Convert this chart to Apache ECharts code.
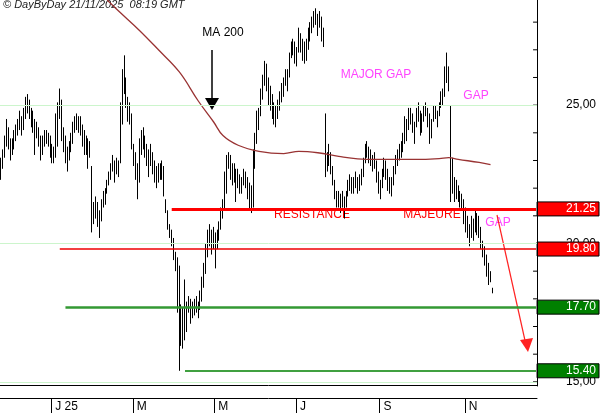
<!DOCTYPE html>
<html><head><meta charset="utf-8">
<script src="https://cdn.jsdelivr.net/npm/echarts@6/dist/echarts.min.js"></script>
<style>html,body{margin:0;padding:0;background:#fff}#c{width:600px;height:413px}</style>
</head><body><div id="c"></div>
<script>
const closes=[22.8,23.2,23.6,24.2,23.7,23.4,23.5,23.9,24.0,24.3,24.5,24.2,24.7,24.9,25.1,24.8,24.6,24.4,24.0,24.1,23.9,
23.3,23.7,23.8,23.9,23.8,23.5,23.1,23.2,23.6,24.6,25.3,24.0,23.8,23.3,23.0,23.4,23.7,24.1,24.3,24.5,24.4,
24.2,24.0,23.6,23.7,23.3,23.5,21.0,21.1,21.4,21.0,20.8,21.4,21.6,21.7,22.1,22.4,22.7,22.9,22.6,22.9,22.7,
24.4,26.0,25.8,25.3,24.9,24.7,23.6,23.0,22.6,22.3,23.4,23.6,23.9,23.4,23.2,22.8,23.3,22.9,22.6,22.4,22.5,
22.6,22.7,22.4,21.4,20.8,20.5,20.2,19.8,19.4,19.0,17.9,17.0,17.4,16.9,17.6,17.8,17.4,17.6,17.7,17.8,17.6,
18.0,18.4,18.9,19.6,20.0,20.4,20.1,20.3,20.0,20.2,20.4,20.9,21.3,22.0,22.9,23.1,22.8,22.5,22.6,22.3,22.4,
22.0,22.1,22.5,22.3,22.0,21.9,21.4,22.7,23.8,24.4,24.5,25.2,25.8,26.3,25.9,25.5,25.3,24.9,24.8,24.6,24.9,
25.2,25.5,25.7,26.0,25.9,26.6,27.1,27.2,26.9,26.8,27.4,27.3,27.0,26.9,27.1,27.5,27.7,27.9,28.1,28.3,28.0,
28.1,27.6,27.4,22.8,23.0,23.3,22.9,22.4,22.0,21.6,21.7,21.5,21.6,21.4,21.7,22.0,22.3,22.2,22.1,22.3,22.1,
22.2,22.4,22.8,23.3,23.4,23.2,23.1,22.9,23.1,22.6,22.2,21.9,22.4,22.8,22.7,22.3,22.1,22.0,22.5,22.9,23.1,
23.3,23.4,23.6,24.0,24.1,24.5,24.6,24.3,24.1,24.6,24.8,24.3,24.4,24.8,24.9,24.6,24.4,24.1,24.7,24.8,24.5,
24.9,25.2,25.3,25.9,26.3,25.9,23.0,22.2,21.8,22.0,21.8,21.6,21.5,21.3,20.9,20.6,20.3,20.7,20.5,21.0,20.8,
20.6,20.1,19.8,19.6,19.2,18.9,18.7,18.3];
const highs=[23.1,23.4,23.9,24.5,24.2,23.8,23.8,24.1,24.3,24.5,24.8,24.6,24.9,25.3,25.4,25.2,24.9,24.8,24.5,24.4,24.2,
23.9,23.9,24.1,24.1,24.0,23.9,23.6,23.5,24.7,25.1,25.6,25.2,24.2,23.9,23.5,23.7,24.0,24.4,24.6,24.7,24.6,
24.6,24.3,24.1,23.9,23.8,23.7,22.8,21.5,21.7,21.5,21.2,21.6,21.9,22.0,22.3,22.6,22.9,23.2,23.0,23.1,23.0,
25.1,26.3,26.8,26.0,25.3,25.1,24.7,23.6,23.3,22.9,23.8,24.1,24.2,23.9,23.6,23.4,23.6,23.3,23.0,22.8,22.9,
22.9,23.0,22.8,21.6,21.2,20.7,20.5,20.2,19.7,19.5,19.2,17.8,17.7,18.7,17.9,18.1,18.0,17.9,18.0,18.1,17.9,
18.3,18.8,19.3,20.0,20.5,20.7,20.5,20.6,20.4,20.5,20.8,21.3,21.6,22.6,23.2,23.3,23.2,22.9,22.9,22.7,22.7,
22.5,22.4,22.7,22.6,22.4,22.2,22.1,23.4,24.0,24.8,24.9,25.6,26.1,26.6,26.5,26.0,25.7,25.4,25.1,25.0,25.2,
25.5,25.8,26.0,26.3,26.3,26.9,27.3,27.4,27.3,27.1,27.8,27.6,27.4,27.3,27.4,27.8,28.0,28.2,28.4,28.5,28.3,
28.4,28.2,27.8,24.7,23.3,23.6,23.3,22.8,22.3,21.9,21.9,21.8,21.9,21.7,21.9,22.3,22.5,22.4,22.4,22.6,22.4,
22.5,22.7,23.1,23.6,23.7,23.5,23.4,23.2,23.3,23.0,22.6,22.3,22.7,23.1,23.0,22.7,22.4,22.4,22.8,23.2,23.4,
23.6,23.7,24.0,24.6,24.5,24.9,24.9,24.7,24.4,24.9,25.1,24.8,24.7,25.0,25.1,24.9,24.7,24.5,25.0,25.0,24.8,
25.1,25.5,25.6,26.4,26.9,26.4,25.0,23.1,22.4,22.3,22.1,21.9,21.8,21.6,21.3,21.0,20.7,21.0,20.9,21.2,21.1,
21.0,20.6,20.1,19.9,19.6,19.3,19.0,18.4];
const lows=[22.3,22.7,23.1,23.5,23.4,23.0,23.2,23.4,23.7,23.9,24.1,23.9,24.1,24.5,24.7,24.5,24.2,24.0,23.2,23.8,23.5,
23.0,23.2,23.5,23.6,23.5,23.1,22.9,22.9,23.1,23.5,24.5,23.7,23.3,22.9,22.6,23.0,23.3,23.6,24.0,24.1,24.0,
23.9,23.5,23.2,23.2,22.7,23.1,20.4,20.7,20.9,20.6,20.2,20.8,21.3,21.4,21.8,22.1,22.3,22.6,22.2,22.5,22.4,
22.9,24.3,25.4,24.9,24.4,24.3,23.4,22.8,22.3,21.6,22.2,23.2,23.4,23.1,22.8,22.4,22.8,22.5,22.2,22.0,22.2,
22.3,22.3,21.7,21.1,20.5,20.2,19.9,19.4,19.0,17.5,15.4,16.3,16.2,16.5,16.8,17.5,17.1,17.3,17.4,17.5,17.3,
17.6,17.9,18.4,18.9,19.5,19.9,19.6,19.8,19.1,19.8,20.1,20.5,20.9,21.2,21.8,22.7,22.3,22.1,22.2,21.5,22.0,
21.8,21.8,22.1,22.0,21.6,21.2,21.1,21.3,22.7,23.6,24.1,24.6,25.2,25.7,25.5,25.0,24.8,24.5,24.3,24.2,24.5,
24.8,25.1,25.3,25.7,25.5,26.0,26.7,26.8,26.5,26.4,26.9,26.9,26.6,26.5,26.6,27.0,27.3,27.6,27.8,27.9,27.5,
27.8,27.3,27.1,22.4,22.6,22.8,22.5,22.1,21.6,21.3,21.3,21.1,21.3,20.9,21.3,21.7,21.9,21.8,21.8,22.0,21.8,
21.9,22.1,22.4,22.9,23.1,22.9,22.8,22.6,22.7,22.2,21.8,21.6,22.0,22.4,22.3,21.9,21.8,21.7,22.1,22.5,22.8,
23.0,23.1,23.3,23.6,23.7,24.1,24.3,24.0,23.6,24.2,24.4,23.9,24.0,24.4,24.6,24.2,23.6,23.8,24.4,24.5,24.2,
24.6,24.9,25.0,25.3,25.8,25.5,21.5,21.8,21.5,21.6,21.5,21.3,21.2,20.7,20.4,20.2,19.9,20.2,20.1,20.4,20.3,
20.2,19.8,19.5,19.2,18.8,18.5,18.6,18.2];
const maIdx=[56,62,73,83,94,104,112,117,125,136,149,157,167,178,188,199,209,220,231,236,241,252,258];
const maVal=[28.8,28.4,27.7,27.0,26.2,25.15,24.4,23.9,23.55,23.33,23.25,23.33,23.28,23.15,23.06,23.04,23.04,23.04,23.07,23.1,23.04,22.93,22.85];
const yTicks=[15,20,25];
const levels=[{v:21.25,from:90,color:'#ff0000',w:3,box:'#ff0000'},{v:19.80,from:31,color:'#ee0000',w:1.5,box:'#ff0000'},{v:17.70,from:34,color:'#339933',w:2.5,box:'#008000'},{v:15.40,from:97,color:'#008000',w:1.5,box:'#008000'}];
const monthLabels={'2025-01':'J 25','2025-03':'M','2025-05':'M','2025-07':'J','2025-09':'S','2025-11':'N'};
const PAD=23;

function fmt(d){return d.getUTCFullYear()+'-'+String(d.getUTCMonth()+1).padStart(2,'0')+'-'+String(d.getUTCDate()).padStart(2,'0');}
const dates=[];let d=new Date(Date.UTC(2025,10,21));
while(dates.length<closes.length){const w=d.getUTCDay();if(w!==0&&w!==6)dates.unshift(fmt(d));d=new Date(d.getTime()-86400000);}
d=new Date(Date.UTC(2025,10,22));
while(dates.length<closes.length+PAD){const w=d.getUTCDay();if(w!==0&&w!==6)dates.push(fmt(d));d=new Date(d.getTime()+86400000);}
const firstOfMonth=[];const seen=new Set();
dates.forEach((s,i)=>{const m=s.slice(0,7);if(!seen.has(m)){seen.add(m);if(monthLabels[m])firstOfMonth.push(i);}});
const fom=new Set(firstOfMonth);

const ohlc=closes.map((c,i)=>[i?closes[i-1]:c,c,lows[i],highs[i]]);
const ma=maIdx.map((ix,k)=>[ix,maVal[k]]);
const YMIN=14.85,YMAX=28.8;

const chart=echarts.init(document.getElementById('c'),null,{renderer:'canvas'});
const FONT='Liberation Sans, Arial, sans-serif';
chart.setOption({
 animation:false,
 grid:{left:0,right:63,top:0,bottom:27},
 xAxis:{type:'category',data:dates,boundaryGap:true,offset:12,
  axisLine:{lineStyle:{color:'#000'}},
  axisTick:{show:false},
  axisLabel:{interval:(i)=>fom.has(i),align:'left',padding:[0,0,0,3],margin:3,color:'#000',fontFamily:FONT,fontSize:12,
   formatter:(v)=>monthLabels[v.slice(0,7)]||''},
  splitLine:{show:false}},
 yAxis:{type:'value',position:'right',min:YMIN,max:YMAX,axisLabel:{show:false},splitLine:{show:false},axisTick:{show:false},
  axisLine:{show:true,lineStyle:{color:'#000'}}},
 series:[
  {type:'line',silent:true,data:[],markLine:{silent:true,symbol:'none',label:{show:false},
    lineStyle:{color:'#ccf5cc',width:1,type:'solid'},data:yTicks.map(v=>({yAxis:v}))}},
  {type:'candlestick',data:ohlc,barMaxWidth:2,
   itemStyle:{color:'#444',color0:'#444',borderColor:'#000',borderColor0:'#000',borderWidth:1}},
  {type:'line',data:ma,smooth:0.4,showSymbol:false,lineStyle:{color:'#993333',width:1.3}},
  {type:'line',data:[],markLine:{silent:true,symbol:'none',label:{show:false},
    data:levels.map(l=>[{coord:[l.from,l.v],lineStyle:{color:l.color,width:l.w,type:'solid',opacity:1}},{coord:[dates.length-1,l.v]}])}}
 ]
});
const px=(i,v)=>chart.convertToPixel({gridIndex:0},[i,v]);
const gr=[];
const right=px(dates.length-1,20)[0]+1;
gr.push({type:'line',shape:{x1:0,y1:385.5,x2:right,y2:385.5},style:{stroke:'#000',lineWidth:1}});
firstOfMonth.forEach(i=>{const x=Math.round(px(i,20)[0]-1)+0.5;gr.push({type:'line',shape:{x1:x,y1:398,x2:x,y2:413},style:{stroke:'#000',lineWidth:1}});});
for(let v=15;v<=28;v++){const y=px(0,v)[1];gr.push({type:'line',shape:{x1:right-4,y1:y,x2:right,y2:y},style:{stroke:'#000',lineWidth:1}});}
yTicks.forEach(v=>{const y=px(0,v)[1];gr.push({type:'text',x:596,y:y,style:{text:v.toFixed(2).replace('.',','),align:'right',verticalAlign:'middle',fill:'#000',font:'12px '+FONT}});});
levels.forEach(l=>{const y=px(0,l.v)[1];
 gr.push({type:'rect',shape:{x:right,y:y-7,width:600-right-1,height:14},style:{fill:l.box,stroke:'#000',lineWidth:1}});
 gr.push({type:'text',x:596,y:y,style:{text:l.v.toFixed(2),align:'right',verticalAlign:'middle',fill:'#fff',font:'12px '+FONT}});});
gr.push({type:'text',x:3,y:5,style:{text:'© DayByDay 21/11/2025  08:19 GMT',verticalAlign:'middle',fill:'#222',font:'italic 11px '+FONT}});
gr.push({type:'text',x:223,y:33,style:{text:'MA 200',align:'center',verticalAlign:'middle',fill:'#000',font:'12px '+FONT}});
gr.push({type:'line',shape:{x1:212,y1:50,x2:212,y2:104},style:{stroke:'#000',lineWidth:1.5}});
gr.push({type:'polygon',shape:{points:[[205,98],[219,98],[212,110]]},style:{fill:'#000'}});
const pink='#ff44ff';
gr.push({type:'text',x:376,y:75,style:{text:'MAJOR GAP',align:'center',verticalAlign:'middle',fill:pink,font:'12px '+FONT}});
gr.push({type:'text',x:476,y:96,style:{text:'GAP',align:'center',verticalAlign:'middle',fill:pink,font:'12px '+FONT}});
gr.push({type:'text',x:498,y:223,style:{text:'GAP',align:'center',verticalAlign:'middle',fill:pink,font:'12px '+FONT}});
gr.push({type:'text',x:312,y:215,style:{text:'RESISTANCE',align:'center',verticalAlign:'middle',fill:'#ff0000',font:'12px '+FONT}});
gr.push({type:'text',x:432,y:215,style:{text:'MAJEURE',align:'center',verticalAlign:'middle',fill:'#ff0000',font:'12px '+FONT}});
gr.push({type:'line',shape:{x1:497,y1:215,x2:526,y2:345},style:{stroke:'#ff2222',lineWidth:1.2}});
gr.push({type:'polygon',shape:{points:[[520,340],[533,338],[528,352]]},style:{fill:'#ff2222'}});
chart.setOption({graphic:gr});
</script></body></html>
